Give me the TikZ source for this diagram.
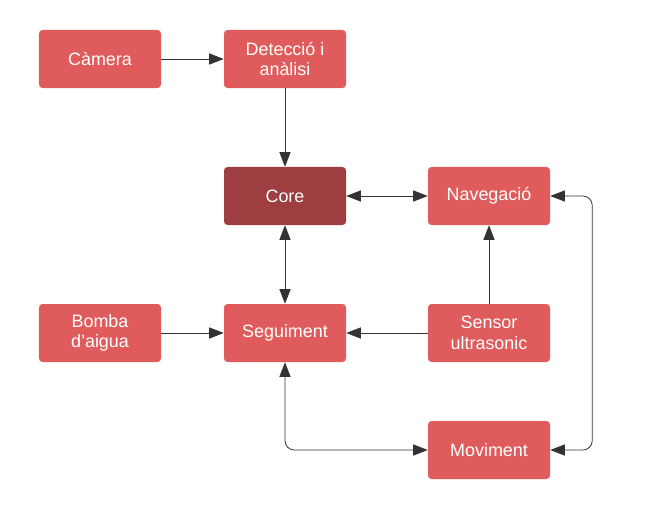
\documentclass[tikz,border=0pt]{standalone}
\usepackage{fontspec}
\setmainfont{Liberation Sans}
\usetikzlibrary{arrows.meta}
\definecolor{boxred}{HTML}{E05C5C}
\definecolor{corered}{HTML}{9E3E40}
\definecolor{wire}{HTML}{333333}
\tikzset{
  block/.style={fill=boxred, rounded corners=3pt, minimum width=3.66cm, minimum height=1.74cm,
    text=white, align=center, font=\fontsize{15.3}{17.5}\selectfont},
  link/.style={draw=wire, line width=0.7pt, -{Triangle[length=12.5pt,width=9.5pt]}},
  dlink/.style={draw=wire, line width=0.7pt, {Triangle[length=12.5pt,width=9.5pt]}-{Triangle[length=12.5pt,width=9.5pt]}}
}
\begin{document}
\begin{tikzpicture}[x=0.03cm, y=-0.03cm]
            \useasboundingbox (0,0) rectangle (657,510);
            \node[block] (cam) at (100,59) {Càmera};
            \node[block] (det) at (285,59) {Detecció i\\anàlisi};
            \node[block, fill=corered] (core) at (285,196) {Core};
            \node[block] (nav) at (489,196) {Navegació};
            \node[block] (bomba) at (100,333) {Bomba\\d'aigua};
            \node[block] (seg) at (285,333) {Seguiment};
            \node[block] (sensor) at (489,333) {Sensor\\ultrasonic};
            \node[block] (mov) at (489,450) {Moviment};
            \draw[link] (cam) -- (det);
            \draw[link] (det) -- (core);
            \draw[dlink] (core) -- (nav);
            \draw[dlink] (core) -- (seg);
            \draw[link] (bomba) -- (seg);
            \draw[link] (sensor) -- (seg);
            \draw[link] (sensor) -- (nav);
            \draw[dlink, rounded corners=8pt] (nav.east) -- ++(42,0) |- (mov.east);
            \draw[dlink, rounded corners=8pt] (seg.south) |- (mov.west);
        \end{tikzpicture}
\end{document}
